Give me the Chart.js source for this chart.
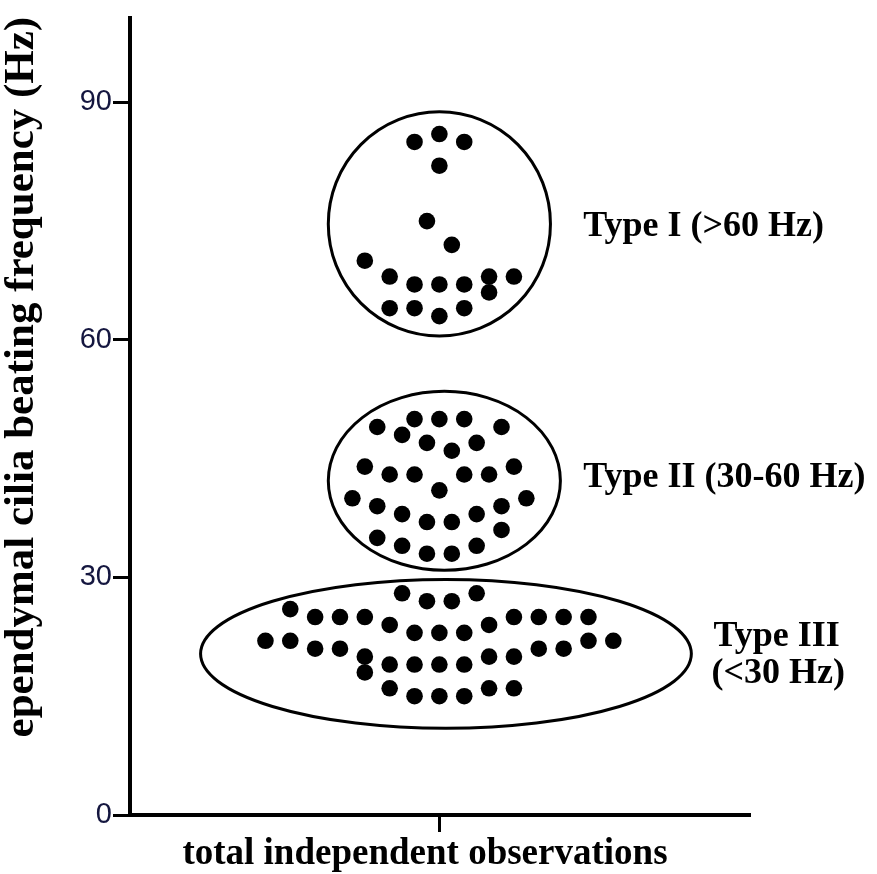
<!DOCTYPE html>
<html><head><meta charset="utf-8">
<script src="https://cdn.jsdelivr.net/npm/chart.js@4/dist/chart.umd.min.js"></script>
<style>html,body{margin:0;padding:0;background:#fff}#wrap{width:877px;height:874px;position:relative}</style>
</head><body><div id="wrap"><canvas id="c"></canvas></div>
<script>
// ---- data (beating frequency in Hz, and beeswarm column of each dot) ----
const yTickValues = [0, 30, 60, 90];
const xTickValues = [0];

const typeI_hz  = [85, 86, 85, 82, 75, 72, 70, 68, 67, 67, 67, 68, 68, 66, 64, 64, 63, 64];
const typeI_col = [-1,  0,  1,  0, -0.5, 0.5, -3, -2, -1, 0, 1, 2, 3, 2, -2, -1, 0, 1];

const typeII_hz  = [49, 50, 50, 50, 49, 48, 47, 46, 47, 44, 43, 43, 43, 43, 44, 41, 40, 39, 38, 37, 37, 38, 39, 40, 35, 34, 33, 33, 34, 36];
const typeII_col = [-2.5, -1, 0, 1, 2.5, -1.5, -0.5, 0.5, 1.5, -3, -2, -1, 1, 2, 3, 0, -3.5, -2.5, -1.5, -0.5, 0.5, 1.5, 2.5, 3.5, -2.5, -1.5, -0.5, 0.5, 1.5, 2.5];

const typeIII_hz  = [28, 27, 27, 28, 26, 25, 25, 25, 25, 25, 25, 25, 24, 24, 23, 23, 23, 22, 22, 22, 22, 21, 21, 21, 21, 20, 20, 20, 19, 19, 19, 19, 18, 16, 16, 16, 15, 15, 15];
const typeIII_col = [-1.5, -0.5, 0.5, 1.5, -6, -5, -4, -3, 3, 4, 5, 6, -2, 2, -1, 0, 1, -7, -6, 6, 7, -5, -4, 4, 5, -3, 2, 3, -2, -1, 0, 1, -3, -2, 2, 3, -1, 0, 1];

const groupNames = ['Type I (>60 Hz)', 'Type II (30-60 Hz)', 'Type III', '(<30 Hz)'];
const yTitle = 'ependymal cilia beating frequency (Hz)';
const xTitle = 'total independent observations';

// ---- annotation geometry (data units) ----
const outlines = [
  {xMin: -4.47, xMax: 4.47,  yMin: 60.5,  yMax: 88.8},
  {xMin: -4.47, xMax: 4.87,  yMin: 30.9,  yMax: 53.5},
  {xMin: -9.61, xMax: 10.14, yMin: 10.95, yMax: 29.75}
];
const labelPos = [
  {x: 5.79, y: 73.1},
  {x: 5.79, y: 41.4},
  {x: 11.03, y: 21.3},
  {x: 10.95, y: 16.7}
];

const toPts = (cols, vals) => vals.map((v, i) => ({x: cols[i], y: v}));

const annotate = {
  id: 'annotate',
  beforeDatasetsDraw(chart) {
    const {ctx, scales: {x, y}} = chart;
    ctx.save();
    ctx.strokeStyle = '#000';
    ctx.lineWidth = 3;
    outlines.forEach(o => {
      const x1 = x.getPixelForValue(o.xMin), x2 = x.getPixelForValue(o.xMax);
      const y1 = y.getPixelForValue(o.yMax), y2 = y.getPixelForValue(o.yMin);
      ctx.beginPath();
      ctx.ellipse((x1 + x2) / 2, (y1 + y2) / 2, (x2 - x1) / 2, (y2 - y1) / 2, 0, 0, Math.PI * 2);
      ctx.stroke();
    });
    ctx.restore();
  },
  afterDraw(chart) {
    const {ctx, scales: {x, y}, chartArea} = chart;
    ctx.save();
    ctx.fillStyle = '#000';
    ctx.textBaseline = 'alphabetic';
    ctx.font = 'bold 36px "Liberation Serif", "Times New Roman", serif';
    ctx.textAlign = 'left';
    groupNames.forEach((t, i) => {
      ctx.fillText(t, x.getPixelForValue(labelPos[i].x), y.getPixelForValue(labelPos[i].y));
    });
    // x title
    ctx.textAlign = 'center';
    ctx.font = 'bold 37px "Liberation Serif", "Times New Roman", serif';
    ctx.fillText(xTitle, x.getPixelForValue(-0.58), chartArea.bottom + 49);
    // y title
    ctx.font = 'bold 43px "Liberation Serif", "Times New Roman", serif';
    ctx.translate(33, y.getPixelForValue(55.3));
    ctx.rotate(-Math.PI / 2);
    ctx.fillText(yTitle, 0, 0);
    ctx.restore();
  }
};

const dotStyle = {pointRadius: 8.3, pointHoverRadius: 8.3, backgroundColor: '#000', borderWidth: 0, pointBorderWidth: 0};

new Chart(document.getElementById('c'), {
  type: 'scatter',
  data: {
    datasets: [
      Object.assign({label: groupNames[0], data: toPts(typeI_col, typeI_hz)}, dotStyle),
      Object.assign({label: groupNames[1], data: toPts(typeII_col, typeII_hz)}, dotStyle),
      Object.assign({label: groupNames[2], data: toPts(typeIII_col, typeIII_hz)}, dotStyle)
    ]
  },
  options: {
    responsive: true,
    maintainAspectRatio: false,
    animation: false,
    layout: {padding: {top: 7, right: 127, bottom: 0, left: 0}},
    plugins: {legend: {display: false}, tooltip: {enabled: false}},
    scales: {
      x: {
        type: 'linear', min: -12.45, max: 12.5,
        afterBuildTicks: s => { s.ticks = xTickValues.map(v => ({value: v})); },
        afterFit: s => { s.height = 59; },
        ticks: {display: false},
        grid: {drawOnChartArea: false, drawTicks: true, tickLength: 17, tickWidth: 3, tickColor: '#000'},
        border: {display: true, color: '#000', width: 4}
      },
      y: {
        type: 'linear', min: 0, max: 100.6,
        afterBuildTicks: s => { s.ticks = yTickValues.map(v => ({value: v})); },
        afterFit: s => { s.width = 130; },
        ticks: {color: '#14163f', padding: 1, font: {family: '"Liberation Sans", Arial, sans-serif', size: 29}},
        grid: {drawOnChartArea: false, drawTicks: true, tickLength: 17, tickWidth: 3, tickColor: '#000'},
        border: {display: true, color: '#000', width: 4}
      }
    }
  },
  plugins: [annotate]
});
</script>
</body></html>
